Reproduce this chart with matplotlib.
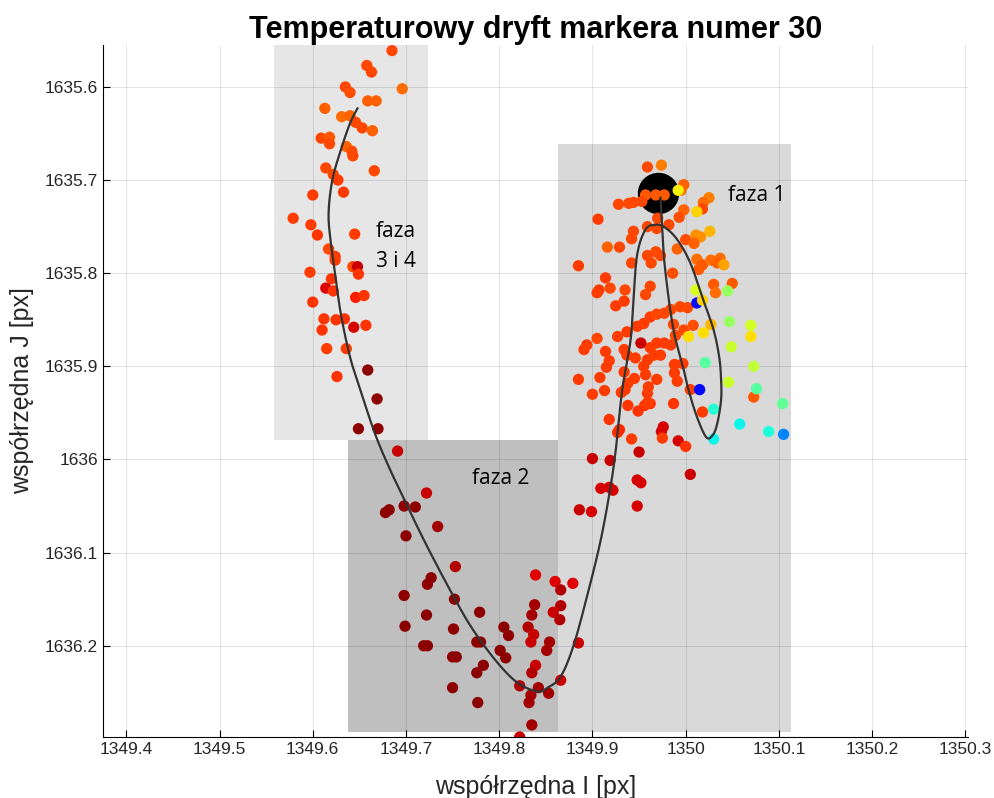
import numpy as np
import matplotlib
matplotlib.use("Agg")
import matplotlib.pyplot as plt
from matplotlib.patches import Rectangle
from matplotlib.ticker import FuncFormatter

# --- dane: polozenie markera (I, J) i znormalizowana temperatura (kolor jet) ---
# faza 3 i 4
x34 = [1349.685, 1349.658, 1349.663, 1349.635, 1349.640, 1349.696, 1349.659, 1349.668,
       1349.613, 1349.631, 1349.640, 1349.646, 1349.653, 1349.664, 1349.609, 1349.618,
       1349.618, 1349.636, 1349.642, 1349.643, 1349.614, 1349.622, 1349.627, 1349.666,
       1349.600, 1349.633, 1349.579, 1349.598, 1349.605, 1349.645, 1349.617, 1349.624,
       1349.624, 1349.643, 1349.648, 1349.649, 1349.597, 1349.620, 1349.614, 1349.622,
       1349.600, 1349.646, 1349.655, 1349.612, 1349.625, 1349.634, 1349.610, 1349.644,
       1349.657, 1349.615, 1349.636, 1349.659, 1349.626, 1349.669, 1349.649, 1349.670]
y34 = [1635.561, 1635.577, 1635.584, 1635.600, 1635.606, 1635.602, 1635.615, 1635.615,
       1635.623, 1635.632, 1635.631, 1635.638, 1635.644, 1635.647, 1635.655, 1635.654,
       1635.661, 1635.664, 1635.669, 1635.674, 1635.687, 1635.694, 1635.700, 1635.690,
       1635.716, 1635.713, 1635.741, 1635.748, 1635.759, 1635.758, 1635.774, 1635.782,
       1635.786, 1635.793, 1635.793, 1635.801, 1635.799, 1635.806, 1635.816, 1635.819,
       1635.831, 1635.826, 1635.824, 1635.849, 1635.850, 1635.849, 1635.861, 1635.858,
       1635.856, 1635.881, 1635.881, 1635.904, 1635.911, 1635.935, 1635.967, 1635.967]
t34 = [0.80, 0.80, 0.80, 0.80, 0.79, 0.76, 0.77, 0.77,
       0.77, 0.76, 0.77, 0.80, 0.80, 0.77, 0.80, 0.78,
       0.80, 0.77, 0.79, 0.80, 0.80, 0.80, 0.81, 0.80,
       0.81, 0.81, 0.81, 0.81, 0.82, 0.81, 0.80, 0.81,
       0.81, 0.80, 0.90, 0.82, 0.81, 0.82, 0.88, 0.82,
       0.82, 0.84, 0.82, 0.82, 0.82, 0.82, 0.82, 0.89,
       0.82, 0.81, 0.81, 0.95, 0.82, 0.95, 0.95, 0.95]

# faza 2
x2 = [1349.691, 1349.722, 1349.698, 1349.710, 1349.678, 1349.682, 1349.734, 1349.700,
      1349.753, 1349.727, 1349.723, 1349.698, 1349.752, 1349.722, 1349.699, 1349.751,
      1349.779, 1349.805, 1349.810, 1349.719, 1349.723, 1349.776, 1349.780, 1349.750,
      1349.754, 1349.801, 1349.807, 1349.783, 1349.776, 1349.750, 1349.777, 1349.822,
      1349.839, 1349.860, 1349.866, 1349.879, 1349.838, 1349.835, 1349.866, 1349.858,
      1349.865, 1349.831, 1349.837, 1349.834, 1349.854, 1349.851, 1349.839, 1349.835,
      1349.842, 1349.834, 1349.832, 1349.853, 1349.866, 1349.835, 1349.822, 1349.885,
      1349.886]
y2 = [1635.991, 1636.036, 1636.050, 1636.051, 1636.057, 1636.054, 1636.072, 1636.082,
      1636.115, 1636.127, 1636.134, 1636.146, 1636.150, 1636.167, 1636.179, 1636.182,
      1636.164, 1636.180, 1636.189, 1636.200, 1636.200, 1636.196, 1636.196, 1636.212,
      1636.212, 1636.205, 1636.213, 1636.221, 1636.229, 1636.245, 1636.261, 1636.243,
      1636.124, 1636.131, 1636.140, 1636.133, 1636.156, 1636.167, 1636.157, 1636.164,
      1636.172, 1636.180, 1636.188, 1636.196, 1636.196, 1636.205, 1636.221, 1636.229,
      1636.245, 1636.253, 1636.261, 1636.251, 1636.237, 1636.285, 1636.298, 1636.197,
      1636.054]
t2 = [0.90, 0.90, 0.95, 0.95, 0.95, 0.95, 0.93, 0.95,
      0.92, 0.95, 0.95, 0.95, 0.95, 0.95, 0.95, 0.95,
      0.95, 0.95, 0.95, 0.95, 0.95, 0.95, 0.95, 0.95,
      0.95, 0.95, 0.95, 0.95, 0.95, 0.95, 0.95, 0.92,
      0.88, 0.88, 0.92, 0.88, 0.93, 0.93, 0.92, 0.90,
      0.92, 0.92, 0.90, 0.90, 0.93, 0.93, 0.90, 0.92,
      0.93, 0.93, 0.93, 0.93, 0.90, 0.93, 0.90, 0.90,
      0.90]

# faza 1
x1 = [1349.918, 1349.927, 1349.929, 1349.942, 1349.950, 1349.900, 1349.919, 1349.974,
      1349.976, 1349.975, 1349.992, 1350.000, 1349.948, 1349.952, 1349.909, 1349.918,
      1349.922, 1349.899, 1349.948, 1350.005, 1349.938, 1349.949, 1349.956, 1349.962,
      1349.987,
      1349.885, 1349.900, 1349.913, 1349.891, 1349.894, 1349.905, 1349.914, 1349.918,
      1349.915, 1349.908, 1349.934, 1349.945, 1349.938, 1349.931, 1349.935, 1349.969,
      1349.960, 1349.959, 1349.959, 1349.988, 1349.997, 1349.988, 1350.005, 1350.018,
      1350.073, 1349.927, 1349.937, 1349.948, 1349.955, 1349.962, 1349.969, 1349.977,
      1349.984, 1349.994, 1350.002, 1349.962, 1349.969, 1349.977, 1349.984, 1349.966,
      1349.959, 1349.955, 1349.946, 1349.937, 1349.989, 1349.998, 1350.008, 1349.987,
      1349.934, 1349.952, 1349.905, 1349.925, 1349.934, 1349.914, 1349.907, 1349.919,
      1349.935, 1349.962, 1349.957, 1349.973, 1349.957, 1349.991,
      1349.959, 1349.974, 1349.998, 1349.995, 1349.992, 1349.957, 1349.968, 1349.977,
      1349.928, 1349.939, 1349.944, 1349.953, 1349.998, 1349.993, 1349.906, 1349.970,
      1349.959, 1349.969, 1349.982, 1349.944, 1349.942, 1349.916, 1349.929, 1349.959,
      1349.968, 1349.973, 1349.991, 1350.000, 1349.942, 1349.963, 1349.885, 1349.986,
      1350.025, 1350.019, 1350.018, 1350.012, 1350.026, 1350.011, 1350.016, 1350.009,
      1350.012, 1350.018, 1350.027, 1350.037, 1350.034, 1350.041, 1350.014,
      1350.030, 1350.050, 1350.032, 1350.045, 1350.011, 1350.012, 1350.018, 1350.047,
      1350.070, 1350.027, 1350.003, 1350.019, 1350.070, 1350.049, 1350.021, 1350.073,
      1350.046, 1350.076, 1350.015, 1350.104, 1350.030, 1350.058, 1350.089, 1350.105,
      1350.030]
y1 = [1635.957, 1635.971, 1635.968, 1635.978, 1635.992, 1635.999, 1636.001, 1635.970,
      1635.965, 1635.977, 1635.980, 1635.986, 1636.022, 1636.025, 1636.031, 1636.030,
      1636.033, 1636.056, 1636.050, 1636.016, 1635.942, 1635.948, 1635.942, 1635.940,
      1635.940,
      1635.914, 1635.930, 1635.926, 1635.882, 1635.877, 1635.870, 1635.884, 1635.894,
      1635.901, 1635.912, 1635.906, 1635.913, 1635.918, 1635.928, 1635.925, 1635.914,
      1635.922, 1635.929, 1635.939, 1635.907, 1635.897, 1635.898, 1635.925, 1635.949,
      1635.933, 1635.868, 1635.863, 1635.857, 1635.854, 1635.847, 1635.844, 1635.843,
      1635.839, 1635.836, 1635.837, 1635.880, 1635.875, 1635.875, 1635.877, 1635.888,
      1635.893, 1635.900, 1635.891, 1635.888, 1635.867, 1635.861, 1635.856, 1635.855,
      1635.882, 1635.875, 1635.821, 1635.835, 1635.830, 1635.805, 1635.818, 1635.816,
      1635.818, 1635.814, 1635.823, 1635.888, 1635.909, 1635.916,
      1635.686, 1635.684, 1635.705, 1635.711, 1635.711, 1635.716, 1635.716, 1635.716,
      1635.726, 1635.725, 1635.724, 1635.723, 1635.732, 1635.740, 1635.742, 1635.741,
      1635.750, 1635.752, 1635.748, 1635.755, 1635.763, 1635.772, 1635.772, 1635.781,
      1635.777, 1635.781, 1635.774, 1635.764, 1635.789, 1635.789, 1635.792, 1635.800,
      1635.719, 1635.724, 1635.731, 1635.734, 1635.755, 1635.759, 1635.761, 1635.768,
      1635.785, 1635.791, 1635.786, 1635.784, 1635.789, 1635.791, 1635.796,
      1635.812, 1635.811, 1635.821, 1635.819, 1635.818, 1635.832, 1635.829, 1635.852,
      1635.856, 1635.855, 1635.868, 1635.864, 1635.868, 1635.879, 1635.896, 1635.900,
      1635.917, 1635.924, 1635.925, 1635.940, 1635.946, 1635.962, 1635.970, 1635.973,
      1635.978]
t1 = [0.82, 0.82, 0.83, 0.81, 0.90, 0.90, 0.90, 0.89,
      0.89, 0.81, 0.89, 0.82, 0.89, 0.89, 0.89, 0.89,
      0.89, 0.89, 0.89, 0.90, 0.82, 0.82, 0.82, 0.82,
      0.82,
      0.81, 0.81, 0.81, 0.81, 0.81, 0.80, 0.81, 0.81,
      0.81, 0.81, 0.81, 0.81, 0.81, 0.81, 0.81, 0.81,
      0.81, 0.81, 0.81, 0.81, 0.81, 0.81, 0.81, 0.81,
      0.78, 0.81, 0.81, 0.81, 0.81, 0.81, 0.80, 0.80,
      0.80, 0.80, 0.80, 0.81, 0.81, 0.81, 0.81, 0.81,
      0.81, 0.81, 0.81, 0.81, 0.80, 0.80, 0.79, 0.80,
      0.81, 0.90, 0.81, 0.81, 0.81, 0.81, 0.81, 0.80,
      0.80, 0.80, 0.80, 0.81, 0.81, 0.81,
      0.80, 0.74, 0.77, 0.76, 0.62, 0.78, 0.78, 0.78,
      0.80, 0.80, 0.80, 0.80, 0.77, 0.79, 0.81, 0.80,
      0.80, 0.80, 0.80, 0.80, 0.80, 0.77, 0.80, 0.80,
      0.80, 0.80, 0.77, 0.79, 0.80, 0.80, 0.81, 0.79,
      0.74, 0.76, 0.80, 0.65, 0.68, 0.72, 0.72, 0.77,
      0.76, 0.78, 0.76, 0.76, 0.77, 0.70, 0.78,
      0.78, 0.78, 0.76, 0.50, 0.58, 0.10, 0.65, 0.50,
      0.57, 0.68, 0.64, 0.64, 0.64, 0.56, 0.42, 0.55,
      0.56, 0.42, 0.10, 0.43, 0.36, 0.33, 0.35, 0.22,
      0.33]

# dopasowana krzywa dryftu (punkty kontrolne)
curve_x = [1349.973, 1349.975, 1349.977, 1349.982, 1349.987, 1349.992, 1349.998, 1350.003,
           1350.012, 1350.022, 1350.029, 1350.034, 1350.038, 1350.038, 1350.036, 1350.030,
           1350.019, 1350.005, 1349.991, 1349.978, 1349.968, 1349.957, 1349.948, 1349.944,
           1349.941, 1349.932, 1349.925, 1349.919, 1349.909, 1349.896, 1349.880, 1349.866,
           1349.852, 1349.841, 1349.820, 1349.798, 1349.772, 1349.751, 1349.723, 1349.702,
           1349.683, 1349.667, 1349.651, 1349.640, 1349.630, 1349.624, 1349.619, 1349.617,
           1349.621, 1349.630, 1349.640, 1349.648]
curve_y = [1635.719, 1635.753, 1635.786, 1635.829, 1635.861, 1635.882, 1635.904, 1635.925,
           1635.954, 1635.976, 1635.974, 1635.961, 1635.936, 1635.914, 1635.890, 1635.861,
           1635.829, 1635.789, 1635.764, 1635.751, 1635.748, 1635.753, 1635.780, 1635.829,
           1635.871, 1635.925, 1635.990, 1636.032, 1636.086, 1636.140, 1636.199, 1636.233,
           1636.245, 1636.249, 1636.240, 1636.218, 1636.183, 1636.147, 1636.094, 1636.051,
           1636.011, 1635.973, 1635.925, 1635.890, 1635.843, 1635.800, 1635.764, 1635.735,
           1635.700, 1635.668, 1635.639, 1635.623]

start_x, start_y = 1349.970, 1635.714

# obszary faz: (x0, x1, y0, y1, kolor)
phases = [
    (1349.558, 1349.724, 1635.50, 1635.979, "#e6e6e6"),
    (1349.638, 1349.8635, 1635.979, 1636.293, "#bfbfbf"),
    (1349.8635, 1350.1135, 1635.661, 1636.293, "#d9d9d9"),
]


def catmull_rom(xs, ys, n=20):
    # gladka krzywa przez punkty kontrolne
    p = np.column_stack([xs, ys])
    p = np.vstack([p[0], p, p[-1]])
    out = []
    for i in range(1, len(p) - 2):
        p0, p1, p2, p3 = p[i - 1], p[i], p[i + 1], p[i + 2]
        t = np.linspace(0, 1, n, endpoint=False)[:, None]
        out.append(0.5 * ((2 * p1) + (-p0 + p2) * t + (2 * p0 - 5 * p1 + 4 * p2 - p3) * t ** 2
                          + (-p0 + 3 * p1 - 3 * p2 + p3) * t ** 3))
    out.append(p[-2][None, :])
    out = np.vstack(out)
    return out[:, 0], out[:, 1]


plt.rcParams['font.family'] = ['Liberation Sans', 'DejaVu Sans']

fig = plt.figure(figsize=(9.95, 7.98), dpi=100)
ax = fig.add_axes([0.1035, 0.0764, 0.8695, 0.8672])

for x0, x1_, y0, y1_, c in phases:
    ax.add_patch(Rectangle((x0, y0), x1_ - x0, y1_ - y0, facecolor=c, edgecolor='none', zorder=1))

ax.scatter([start_x], [start_y], s=830, color='black', zorder=3)

xs = np.array(x34 + x2 + x1)
ys = np.array(y34 + y2 + y1)
ts = np.array(t34 + t2 + t1)
ax.scatter(xs, ys, c=ts, cmap='jet', vmin=-0.035, vmax=0.965, s=66, linewidths=0, zorder=4)

cx, cy = catmull_rom(curve_x, curve_y)
ax.plot(cx, cy, color='#333333', lw=1.6, zorder=5)

tfont = ['Open Sans', 'DejaVu Sans']
ax.text(1350.045, 1635.717, "faza 1", fontsize=15, family=tfont, va='center', zorder=6)
ax.text(1349.668, 1635.755, "faza", fontsize=15, family=tfont, va='center', zorder=6)
ax.text(1349.668, 1635.787, "3 i 4", fontsize=15, family=tfont, va='center', zorder=6)
ax.text(1349.771, 1636.020, "faza 2", fontsize=15, family=tfont, va='center', zorder=6)

ax.set_xlim(1349.375, 1350.303)
ax.set_ylim(1636.298, 1635.555)
ax.set_xticks([1349.4, 1349.5, 1349.6, 1349.7, 1349.8, 1349.9, 1350.0, 1350.1, 1350.2, 1350.3])
ax.set_yticks([1635.6, 1635.7, 1635.8, 1635.9, 1636.0, 1636.1, 1636.2])
fmt = FuncFormatter(lambda v, pos: "%.10g" % round(v, 4))
ax.xaxis.set_major_formatter(fmt)
ax.yaxis.set_major_formatter(fmt)
ax.tick_params(direction='in', labelsize=12.5, labelcolor='#262626', length=5)
ax.set_axisbelow(False)
ax.grid(True, color='black', alpha=0.1, lw=0.8)
ax.spines['top'].set_visible(False)
ax.spines['right'].set_visible(False)

ax.set_title("Temperaturowy dryft markera numer 30", fontsize=22, fontweight='bold', pad=4)
ax.set_xlabel("współrzędna I [px]", fontsize=18, color='#262626', labelpad=13)
ax.set_ylabel("współrzędna J [px]", fontsize=18, color='#262626', labelpad=8)

fig.savefig("out.png", dpi=100)
